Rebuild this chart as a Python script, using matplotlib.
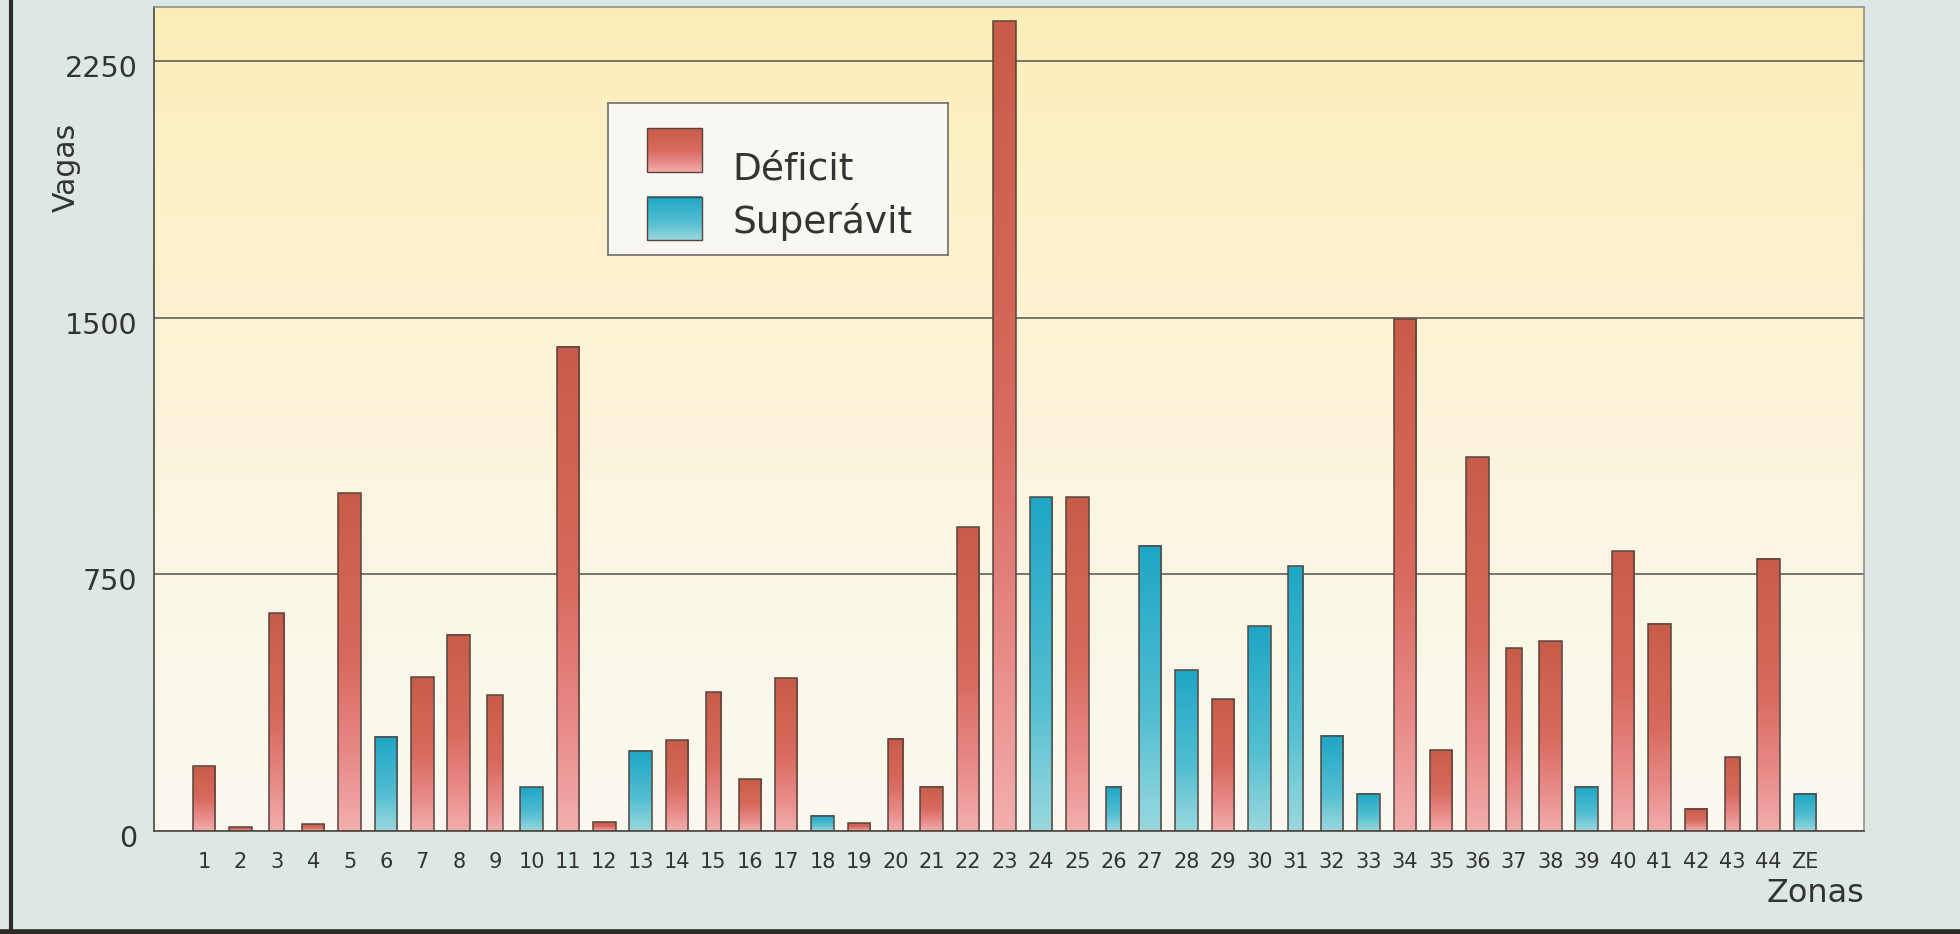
import matplotlib
matplotlib.use("Agg")
import matplotlib.pyplot as plt
import numpy as np
from matplotlib.colors import LinearSegmentedColormap
from matplotlib.lines import Line2D
from matplotlib.patches import Rectangle
import matplotlib.transforms as mtransforms

# ── data ──────────────────────────────────────────────────────────────────────
zones = [str(i) for i in range(1, 45)] + ["ZE"]
vagas = [189, 11, 637, 20, 987, 276, 449, 573, 397, 128,
         1415, 26, 234, 265, 405, 151, 447, 45, 22, 270,
         130, 887, 2367, 975, 975, 130, 833, 470, 385, 598,
         774, 278, 109, 1497, 236, 1092, 534, 554, 130, 818,
         605, 65, 215, 796, 109]
# D = déficit, S = superávit
status = ["D", "D", "D", "D", "D", "S", "D", "D", "D", "S",
          "D", "D", "S", "D", "D", "D", "D", "S", "D", "D",
          "D", "D", "D", "S", "D", "S", "S", "S", "D", "S",
          "S", "S", "S", "D", "D", "D", "D", "D", "S", "D",
          "D", "D", "D", "D", "S"]
yticks = [0, 750, 1500, 2250]

# the original rendering drew some bars thinner
NARROW = {"3", "9", "15", "20", "26", "31", "37", "43"}

RED_CMAP = LinearSegmentedColormap.from_list(
    "deficit", [(0.0, "#f2aeac"), (0.22, "#e88a88"), (0.5, "#d86a5e"), (1.0, "#c95c48")])
CYAN_CMAP = LinearSegmentedColormap.from_list(
    "superavit", [(0.0, "#9ad8de"), (0.4, "#52bed1"), (1.0, "#1ea6c6")])
BG_CMAP = LinearSegmentedColormap.from_list(
    "bg", [(0.0, "#faf8f0"), (0.3, "#fbf6e6"), (0.62, "#fcf3d3"), (1.0, "#fcedb8")])

W, H, DPI = 1960, 934, 100
fig = plt.figure(figsize=(W / DPI, H / DPI), dpi=DPI, facecolor="#dde8e6")

ax = fig.add_axes([154 / W, 1 - 831 / H, 1710 / W, 824 / H])
ax.set_facecolor("none")

grad = np.linspace(0, 1, 256).reshape(-1, 1)

# plot background gradient
ax.imshow(grad, cmap=BG_CMAP, origin="lower", aspect="auto",
          extent=(0, 1, 0, 1), transform=ax.transAxes, zorder=0)

# ── bars ──────────────────────────────────────────────────────────────────────
x = np.arange(len(zones))
widths = [0.42 if z in NARROW else 0.62 for z in zones]
bars = ax.bar(x, vagas, width=widths, facecolor="none",
              edgecolor="#55453e", linewidth=1.1, zorder=3)

for rect, st in zip(bars, status):
    x0, w, h = rect.get_x(), rect.get_width(), rect.get_height()
    cmap = RED_CMAP if st == "D" else CYAN_CMAP
    ax.imshow(grad, cmap=cmap, origin="lower", aspect="auto",
              extent=(x0, x0 + w, 0, h), zorder=2, interpolation="bilinear")

# ── axes styling ──────────────────────────────────────────────────────────────
ax.set_xlim(-1.374, 45.62)
ax.set_ylim(0, 2408)
ax.set_yticks(yticks)
ax.set_yticklabels([str(t) for t in yticks], fontsize=20.5, color="#333333")
ax.set_xticks(x)
ax.set_xticklabels(zones, fontsize=15, color="#333333")
ax.tick_params(axis="y", length=0, pad=12)
ax.tick_params(axis="x", length=0, pad=15)
ax.grid(axis="y", color="#5f5f5a", linewidth=1.2)
ax.set_axisbelow(True)

shift = mtransforms.ScaledTranslation(0, -5 / DPI, fig.dpi_scale_trans)
for lbl in ax.get_yticklabels():
    lbl.set_transform(lbl.get_transform() + shift)

for side in ["left", "bottom"]:
    ax.spines[side].set_color("#55524d")
    ax.spines[side].set_linewidth(1.3)
for side in ["top", "right"]:
    ax.spines[side].set_color("#8a8a84")
    ax.spines[side].set_linewidth(1.1)

fig.text(66 / W, 1 - 167 / H, "Vagas", rotation=90, ha="center", va="center",
         fontsize=21.5, color="#333333")
fig.text(1864 / W, 1 - 894 / H, "Zonas", ha="right", va="center",
         fontsize=23, color="#333333")

# ── legend box ────────────────────────────────────────────────────────────────
lax = fig.add_axes([608 / W, 1 - 255 / H, 340 / W, 152 / H])
lax.set_facecolor("#f8f7f1")
lax.set_xticks([])
lax.set_yticks([])
for sp in lax.spines.values():
    sp.set_color("#6e6e6a")
    sp.set_linewidth(1.2)

legend_items = [("Déficit", RED_CMAP, 25, 69, 76), ("Superávit", CYAN_CMAP, 94, 137, 130)]
for label, cmap, y0, y1, base in legend_items:
    lax.imshow(grad, cmap=cmap, origin="lower", aspect="auto",
               extent=(39, 94, y1, y0), zorder=2)
    lax.add_patch(Rectangle((39, y0), 55, y1 - y0, facecolor="none",
                            edgecolor="#55453e", linewidth=1.0, zorder=3))
    lax.text(124, base, label, fontsize=27, color="#333333", va="baseline", ha="left")
lax.set_xlim(0, 340)
lax.set_ylim(152, 0)

# ── page border (scan edges) ──────────────────────────────────────────────────
fig.add_artist(Line2D([11 / W, 11 / W], [0, 1], color="#2d2a28", linewidth=3))
fig.add_artist(Line2D([0, 1], [2 / H, 2 / H], color="#2d2a28", linewidth=4))

fig.savefig("out.png", dpi=DPI, facecolor=fig.get_facecolor())
